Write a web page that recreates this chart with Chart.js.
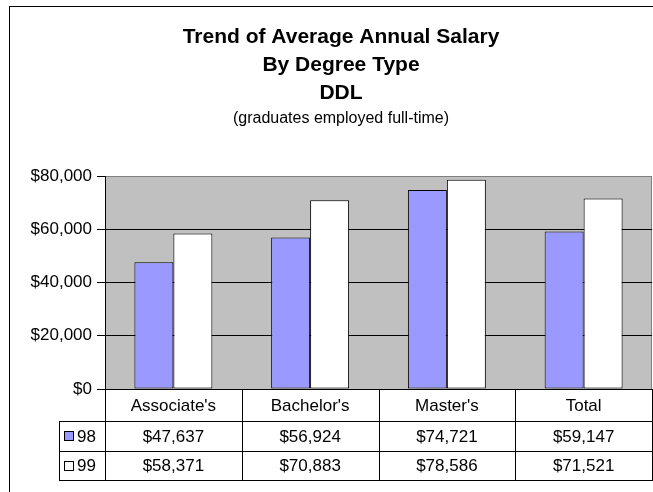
<!DOCTYPE html>
<html>
<head>
<meta charset="utf-8">
<script src="https://cdn.jsdelivr.net/npm/chart.js@4.4.1/dist/chart.umd.min.js"></script>
<style>
  body { margin: 0; background: #fff; }
  canvas { display: block; }
</style>
</head>
<body>
<canvas id="salaryChart" width="653" height="492" role="img" aria-label="Trend of average annual salary by degree type"></canvas>
<script>
const categories = ["Associate's", "Bachelor's", "Master's", "Total"];
const seriesNames = ["98", "99"];
const salary98 = [47637, 56924, 74721, 59147];
const salary99 = [58371, 70883, 78586, 71521];
const yMax = 80000;
const yStep = 20000;

const seriesColors = ["#9999FF", "#FFFFFF"];
const FONT = "'Liberation Sans', Arial, sans-serif";

Chart.defaults.color = "#000";
Chart.defaults.font.family = FONT;

const money = (v) => "$" + v.toLocaleString("en-US");

// grey plot background and outer frame
const plotBackground = {
  id: "plotBackground",
  beforeDraw: function (chart) {
    const { ctx, chartArea } = chart;
    ctx.save();
    ctx.strokeStyle = "#000";
    ctx.lineWidth = 1;
    ctx.strokeRect(9.5, 6.5, 700, 600);
    ctx.fillStyle = "#C0C0C0";
    ctx.fillRect(chartArea.left, chartArea.top, chartArea.right - chartArea.left, chartArea.bottom - chartArea.top);
    ctx.strokeStyle = "#808080";
    ctx.beginPath();
    ctx.moveTo(chartArea.left, chartArea.top + 0.5);
    ctx.lineTo(chartArea.right - 0.5, chartArea.top + 0.5);
    ctx.lineTo(chartArea.right - 0.5, chartArea.bottom);
    ctx.stroke();
    ctx.restore();
  },
};

// Excel style data table under the plot
const dataTable = {
  id: "dataTable",
  afterDraw: function (chart) {
    const { ctx, chartArea } = chart;
    const x = chart.scales.x;
    const half = (x.getPixelForValue(1) - x.getPixelForValue(0)) / 2;
    const edges = categories.map((c, i) => Math.round(x.getPixelForValue(i) - half));
    edges.push(Math.round(x.getPixelForValue(categories.length - 1) + half));
    const top = Math.round(chartArea.bottom);
    const rows = [top, top + 32, top + 62, top + 91];
    const legendLeft = 59;
    const right = edges[edges.length - 1];

    ctx.save();
    ctx.strokeStyle = "#000";
    ctx.lineWidth = 1;
    ctx.beginPath();
    edges.forEach((ex) => {
      ctx.moveTo(ex + 0.5, rows[0]);
      ctx.lineTo(ex + 0.5, rows[3]);
    });
    ctx.moveTo(legendLeft + 0.5, rows[1]);
    ctx.lineTo(legendLeft + 0.5, rows[3]);
    for (let r = 1; r < rows.length; r++) {
      ctx.moveTo(legendLeft, rows[r] + 0.5);
      ctx.lineTo(right + 1, rows[r] + 0.5);
    }
    ctx.stroke();

    ctx.fillStyle = "#000";
    ctx.font = "17px " + FONT;
    ctx.textAlign = "center";
    ctx.textBaseline = "middle";
    const series = [salary98, salary99];
    categories.forEach((c, i) => {
      const cx = x.getPixelForValue(i);
      ctx.fillText(c, cx, (rows[0] + rows[1]) / 2 + 1);
      series.forEach((vals, s) => {
        ctx.fillText(money(vals[i]), cx, (rows[s + 1] + rows[s + 2]) / 2 + 1);
      });
    });

    ctx.textAlign = "left";
    seriesNames.forEach((name, s) => {
      const cy = (rows[s + 1] + rows[s + 2]) / 2;
      ctx.fillStyle = seriesColors[s];
      ctx.fillRect(64.5, Math.round(cy) - 4.5, 9, 9);
      ctx.strokeRect(64.5, Math.round(cy) - 4.5, 9, 9);
      ctx.fillStyle = "#000";
      ctx.fillText(name, 77, cy + 1);
    });
    ctx.restore();
  },
};

new Chart(document.getElementById("salaryChart").getContext("2d"), {
  type: "bar",
  data: {
    labels: categories,
    datasets: [
      {
        label: seriesNames[0],
        data: salary98,
        backgroundColor: seriesColors[0],
        borderColor: "#000",
        borderWidth: 1,
        borderSkipped: false,
      },
      {
        label: seriesNames[1],
        data: salary99,
        backgroundColor: seriesColors[1],
        borderColor: "#000",
        borderWidth: 1,
        borderSkipped: false,
      },
    ],
  },
  options: {
    responsive: false,
    animation: false,
    layout: { padding: { top: 0, left: 30, right: 1, bottom: 103 } },
    datasets: { bar: { categoryPercentage: 0.57, barPercentage: 1 } },
    plugins: {
      legend: { display: false },
      tooltip: { enabled: false },
      title: {
        display: true,
        text: ["Trend of Average Annual Salary", "By Degree Type", "DDL"],
        font: { size: 21, weight: "bold", lineHeight: 28 / 21 },
        padding: { top: 23, bottom: 0 },
      },
      subtitle: {
        display: true,
        text: "(graduates employed full-time)",
        font: { size: 16, lineHeight: 1.2 },
        padding: { top: 2.4, bottom: 47.4 },
      },
    },
    scales: {
      x: { display: false },
      y: {
        min: 0,
        max: yMax,
        afterFit: function (scale) {
          scale.width = 75;
        },
        ticks: {
          stepSize: yStep,
          padding: 5,
          font: { size: 17 },
          callback: (v) => money(v),
        },
        grid: {
          color: (c) => (c.tick && c.tick.value === yMax ? "#808080" : "#000"),
          tickColor: "#000",
          tickLength: 8,
        },
        border: { color: "#000", width: 1 },
      },
    },
  },
  plugins: [plotBackground, dataTable],
});
</script>
</body>
</html>
